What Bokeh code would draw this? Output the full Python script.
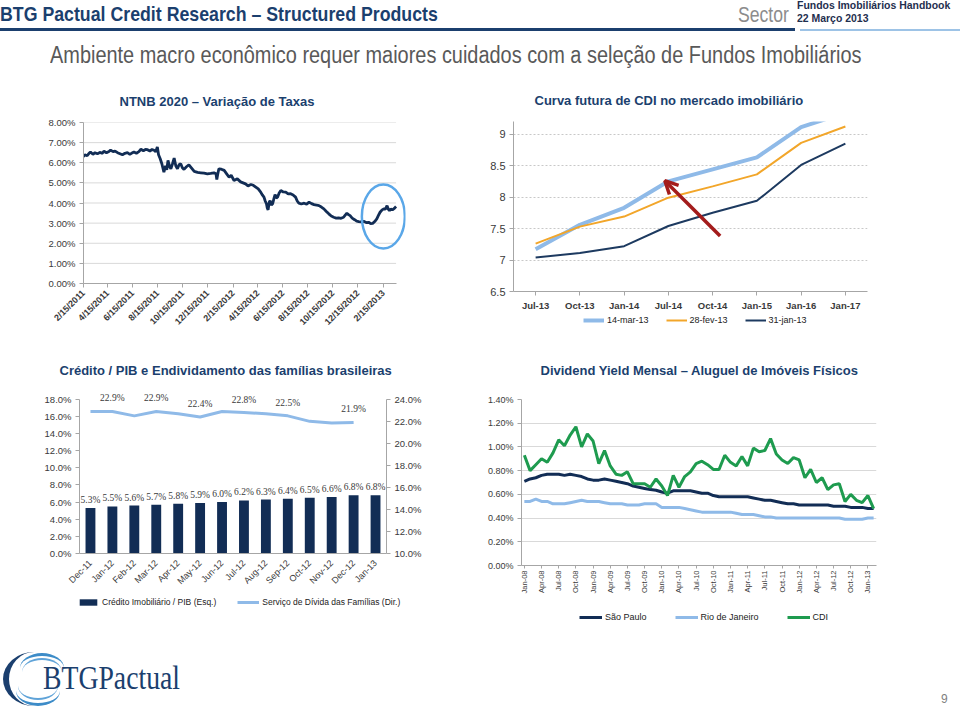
import math
from datetime import datetime
from bokeh.plotting import figure
from bokeh.models import (Div, FixedTicker, Legend, LegendItem, LabelSet, ColumnDataSource,
                          Arrow, OpenHead, LinearAxis, Range1d, FactorRange, PrintfTickFormatter)
from bokeh.layouts import column, row
from bokeh.embed import file_html
from bokeh.resources import INLINE

# ---------------- data ----------------
# NTNB 2020 yield (%)
ntnb_dates = [
    "2011-02-15", "2011-02-18", "2011-02-24", "2011-03-01", "2011-03-04", "2011-03-10", "2011-03-15",
    "2011-03-21", "2011-03-28", "2011-04-01", "2011-04-06", "2011-04-12", "2011-04-18", "2011-04-22",
    "2011-04-28", "2011-05-03", "2011-05-09", "2011-05-15", "2011-05-21", "2011-05-27", "2011-06-02",
    "2011-06-08", "2011-06-13", "2011-06-18", "2011-06-24", "2011-06-30", "2011-07-05", "2011-07-11",
    "2011-07-16", "2011-07-21", "2011-07-27", "2011-08-01", "2011-08-06", "2011-08-10", "2011-08-14",
    "2011-08-17", "2011-08-21", "2011-08-25", "2011-08-30", "2011-09-03", "2011-09-06", "2011-09-09",
    "2011-09-13", "2011-09-16", "2011-09-20", "2011-09-24", "2011-09-28", "2011-10-02", "2011-10-06",
    "2011-10-10", "2011-10-14", "2011-10-18", "2011-10-24", "2011-10-30", "2011-11-05", "2011-11-12",
    "2011-11-20", "2011-11-28", "2011-12-06", "2011-12-14", "2011-12-22", "2011-12-30", "2012-01-04",
    "2012-01-06", "2012-01-08", "2012-01-11", "2012-01-17", "2012-01-24", "2012-01-30", "2012-02-05",
    "2012-02-10", "2012-02-17", "2012-02-25", "2012-03-04", "2012-03-10", "2012-03-16", "2012-03-22",
    "2012-03-29", "2012-04-04", "2012-04-10", "2012-04-16", "2012-04-22", "2012-04-26", "2012-04-30",
    "2012-05-03", "2012-05-06", "2012-05-08", "2012-05-10", "2012-05-13", "2012-05-15", "2012-05-18",
    "2012-05-21", "2012-05-24", "2012-05-27", "2012-05-30", "2012-06-02", "2012-06-06", "2012-06-10",
    "2012-06-16", "2012-06-22", "2012-06-28", "2012-07-04", "2012-07-10", "2012-07-16", "2012-07-20",
    "2012-07-24", "2012-07-30", "2012-08-06", "2012-08-12", "2012-08-18", "2012-08-24", "2012-08-30",
    "2012-09-05", "2012-09-11", "2012-09-17", "2012-09-23", "2012-09-29", "2012-10-05", "2012-10-11",
    "2012-10-17", "2012-10-23", "2012-10-29", "2012-11-04", "2012-11-10", "2012-11-14", "2012-11-18",
    "2012-11-22", "2012-11-26", "2012-12-01", "2012-12-07", "2012-12-12", "2012-12-17", "2012-12-23",
    "2012-12-29", "2013-01-04", "2013-01-10", "2013-01-15", "2013-01-20", "2013-01-25", "2013-01-30",
    "2013-02-03", "2013-02-07", "2013-02-12", "2013-02-16", "2013-02-20", "2013-02-24", "2013-02-27",
    "2013-03-02", "2013-03-05", "2013-03-09", "2013-03-13", "2013-03-18",
]
ntnb_rates = [
    6.30, 6.40, 6.35, 6.48, 6.53, 6.42, 6.50,
    6.45, 6.52, 6.46, 6.57, 6.50, 6.56, 6.63,
    6.55, 6.58, 6.50, 6.45, 6.40, 6.47, 6.50,
    6.42, 6.48, 6.53, 6.47, 6.55, 6.67, 6.60,
    6.66, 6.65, 6.58, 6.66, 6.62, 6.55, 6.78,
    6.40, 6.20, 5.95, 5.53, 5.85, 5.65, 6.12,
    5.80, 5.70, 5.95, 6.23, 5.85, 5.70, 5.90,
    5.95, 5.75, 5.67, 5.80, 5.90, 5.75, 5.57,
    5.52, 5.50, 5.48, 5.45, 5.47, 5.50, 5.45,
    5.17, 5.40, 5.70, 5.68, 5.62, 5.45, 5.28,
    5.38, 5.12, 5.20, 5.05, 5.00, 4.95, 4.85,
    4.92, 4.88, 4.79, 4.70, 4.54, 4.40, 4.29,
    4.10, 3.96, 3.75, 3.66, 4.05, 4.12, 3.90,
    3.96, 4.20, 4.42, 4.25, 4.29, 4.50, 4.62,
    4.55, 4.54, 4.45, 4.46, 4.40, 4.29, 4.10,
    3.99, 3.95, 3.99, 3.94, 4.04, 3.97, 3.92,
    3.90, 3.87, 3.80, 3.71, 3.58, 3.46, 3.35,
    3.29, 3.25, 3.26, 3.24, 3.29, 3.40, 3.49,
    3.42, 3.37, 3.25, 3.17, 3.10, 3.08, 3.06,
    3.09, 3.03, 3.04, 2.98, 2.99, 3.08, 3.21,
    3.38, 3.54, 3.66, 3.71, 3.70, 3.87, 3.70,
    3.62, 3.70, 3.66, 3.72, 3.82,
]
ntnb_tick_labels = ["2/15/2011", "4/15/2011", "6/15/2011", "8/15/2011", "10/15/2011", "12/15/2011",
                    "2/15/2012", "4/15/2012", "6/15/2012", "8/15/2012", "10/15/2012", "12/15/2012",
                    "2/15/2013"]
ntnb_y_ticks = [0, 1, 2, 3, 4, 5, 6, 7, 8]
ntnb_highlight_date = "2013-02-15"
ntnb_highlight_rate = 3.33

# Curva futura de CDI
cdi_curve_labels = ["Jul-13", "Oct-13", "Jan-14", "Jul-14", "Oct-14", "Jan-15", "Jan-16", "Jan-17"]
curve_14mar13 = [7.17, 7.56, 7.83, 8.25, 8.44, 8.63, 9.11, 9.34]
curve_28fev13 = [7.26, 7.53, 7.69, 7.99, 8.17, 8.36, 8.86, 9.12]
curve_31jan13 = [7.04, 7.11, 7.22, 7.54, 7.75, 7.94, 8.51, 8.85]
curve_y_ticks = [6.5, 7, 7.5, 8, 8.5, 9]
curve_y_tick_labels = ["6.5", "7", "7.5", "8", "8.5", "9"]
arrow_from = (4.17, 7.38)
arrow_to = (2.92, 8.26)

# Crédito / PIB e endividamento
credit_months = ["Dec-11", "Jan-12", "Feb-12", "Mar-12", "Apr-12", "May-12", "Jun-12", "Jul-12",
                 "Aug-12", "Sep-12", "Oct-12", "Nov-12", "Dec-12", "Jan-13"]
credit_gdp = [5.3, 5.5, 5.6, 5.7, 5.8, 5.9, 6.0, 6.2, 6.3, 6.4, 6.5, 6.6, 6.8, 6.8]
debt_service = [22.9, 22.9, 22.5, 22.9, 22.7, 22.4, 22.9, 22.8, 22.7, 22.5, 22.0, 21.85, 21.9]
debt_service_labelled = ["Jan-12", "Mar-12", "May-12", "Jul-12", "Sep-12", "Dec-12"]
credit_left_ticks = [0, 2, 4, 6, 8, 10, 12, 14, 16, 18]
credit_right_ticks = [10, 12, 14, 16, 18, 20, 22, 24]

# Dividend yield mensal
dy_months = ["Jan-08", "Feb-08", "Mar-08", "Apr-08", "May-08", "Jun-08", "Jul-08", "Aug-08", "Sep-08", "Oct-08", "Nov-08", "Dec-08",
             "Jan-09", "Feb-09", "Mar-09", "Apr-09", "May-09", "Jun-09", "Jul-09", "Aug-09", "Sep-09", "Oct-09", "Nov-09", "Dec-09",
             "Jan-10", "Feb-10", "Mar-10", "Apr-10", "May-10", "Jun-10", "Jul-10", "Aug-10", "Sep-10", "Oct-10", "Nov-10", "Dec-10",
             "Jan-11", "Feb-11", "Mar-11", "Apr-11", "May-11", "Jun-11", "Jul-11", "Aug-11", "Sep-11", "Oct-11", "Nov-11", "Dec-11",
             "Jan-12", "Feb-12", "Mar-12", "Apr-12", "May-12", "Jun-12", "Jul-12", "Aug-12", "Sep-12", "Oct-12", "Nov-12", "Dec-12",
             "Jan-13", "Feb-13"]
dy_sao_paulo = [0.71, 0.73, 0.74, 0.76, 0.77, 0.77, 0.77, 0.76, 0.77, 0.76, 0.75, 0.73,
                0.72, 0.72, 0.73, 0.72, 0.71, 0.70, 0.69, 0.67, 0.66, 0.65, 0.64, 0.635,
                0.62, 0.61, 0.63, 0.63, 0.63, 0.63, 0.62, 0.61, 0.61, 0.59, 0.58, 0.58,
                0.58, 0.58, 0.58, 0.58, 0.57, 0.56, 0.55, 0.55, 0.54, 0.53, 0.52, 0.52,
                0.51, 0.51, 0.51, 0.51, 0.51, 0.51, 0.50, 0.50, 0.50, 0.49, 0.49, 0.49,
                0.48, 0.48]
dy_rio = [0.54, 0.54, 0.56, 0.54, 0.54, 0.52, 0.52, 0.52, 0.53, 0.54, 0.55, 0.54,
          0.54, 0.54, 0.53, 0.52, 0.52, 0.52, 0.51, 0.51, 0.51, 0.52, 0.52, 0.52,
          0.49, 0.49, 0.49, 0.49, 0.48, 0.47, 0.46, 0.45, 0.45, 0.45, 0.45, 0.45,
          0.45, 0.44, 0.43, 0.43, 0.43, 0.42, 0.41, 0.41, 0.40, 0.40, 0.40, 0.40,
          0.40, 0.40, 0.40, 0.40, 0.40, 0.40, 0.40, 0.40, 0.39, 0.39, 0.39, 0.39,
          0.40, 0.40]
dy_cdi = [0.93, 0.80, 0.85, 0.90, 0.87, 0.95, 1.06, 1.01, 1.10, 1.17, 1.00, 1.11,
          1.05, 0.86, 0.97, 0.84, 0.77, 0.76, 0.79, 0.69, 0.69, 0.69, 0.66, 0.73,
          0.67, 0.59, 0.76, 0.66, 0.75, 0.79, 0.86, 0.88, 0.85, 0.81, 0.81, 0.93,
          0.87, 0.84, 0.92, 0.84, 0.99, 0.96, 0.97, 1.07, 0.94, 0.89, 0.86, 0.91,
          0.89, 0.74, 0.81, 0.70, 0.74, 0.64, 0.68, 0.69, 0.54, 0.60, 0.55, 0.53,
          0.59, 0.48]
dy_y_ticks = [0.0, 0.2, 0.4, 0.6, 0.8, 1.0, 1.2, 1.4]

# ---------------- style ----------------
SANS = "Liberation Sans"
NAVY = "#122D55"
TITLE_BLUE = "#1B3F6E"
LIGHT = "#8FBAE8"
ORANGE = "#F2A62A"
GREEN = "#1E9B4F"
RED = "#A31C1C"
AXIS_GREY = "#A6A6A6"
GRID_GREY = "#D9D9D9"
TXT = "#3A3A3A"
NAN = float("nan")


def base_fig(**kw):
    p = figure(output_backend="svg", toolbar_location=None, **kw)
    p.outline_line_color = None
    p.background_fill_color = "white"
    p.border_fill_color = "white"
    p.xgrid.visible = False
    p.ygrid.visible = False
    return p


def style_axis(ax, size, bold=False):
    ax.axis_line_color = AXIS_GREY
    ax.major_tick_line_color = AXIS_GREY
    ax.minor_tick_line_color = None
    ax.major_tick_out = 4
    ax.major_tick_in = 0
    ax.major_label_standoff = 4
    ax.major_label_text_font = SANS
    ax.major_label_text_font_size = size
    ax.major_label_text_color = TXT
    if bold:
        ax.major_label_text_font_style = "bold"


def style_title(p, text, offset, standoff):
    p.title.text = text
    p.title.text_font = SANS
    p.title.text_font_size = "13px"
    p.title.text_font_style = "bold"
    p.title.text_color = TITLE_BLUE
    p.title.align = "left"
    p.title.offset = offset
    p.title.standoff = standoff


def make_legend(fig, items, vx, vy, glyph_w, spacing, font_size):
    """Legend drawn from placeholder renderers that carry the series styles."""
    entries = []
    for label, kind, kw in items:
        if kind == "bar":
            r = fig.vbar(x=[NAN], top=[NAN], width=0.5, **kw)
        else:
            r = fig.line(x=[NAN], y=[NAN], **kw)
        entries.append(LegendItem(label=label, renderers=[r]))
    lg = Legend(items=entries, orientation="horizontal", location=(vx, vy))
    lg.padding = 0
    lg.margin = 0
    lg.border_line_color = None
    lg.background_fill_alpha = 0
    lg.glyph_width = glyph_w
    lg.glyph_height = 8
    lg.label_height = 12
    lg.label_standoff = 3
    lg.spacing = spacing
    lg.label_text_font = SANS
    lg.label_text_font_size = font_size
    lg.label_text_color = "#222222"
    fig.add_layout(lg)
    return lg


def strip_fig(width, height):
    lf = figure(width=width, height=height, x_range=Range1d(0, 1), y_range=Range1d(0, 1),
                x_axis_location=None, y_axis_location=None, min_border=0,
                output_backend="svg", toolbar_location=None)
    lf.outline_line_color = None
    lf.xgrid.visible = False
    lf.ygrid.visible = False
    return lf


def to_ms(d):
    return (d - datetime(1970, 1, 1)).total_seconds() * 1000.0


# ---------------- chart 1: NTNB 2020 ----------------
ntnb_x = [datetime.strptime(d, "%Y-%m-%d") for d in ntnb_dates]
tick_dates = [datetime.strptime(t, "%m/%d/%Y") for t in ntnb_tick_labels]
x_first = tick_dates[0]
x_axis_end = ntnb_x[-1]
x_frame_end = datetime(2013, 4, 10)

p1 = base_fig(width=480, height=262, x_axis_type="datetime",
              x_range=Range1d(x_first, x_frame_end), y_range=Range1d(0, 8),
              min_border_left=83, min_border_right=75, min_border_top=46, min_border_bottom=55)
style_title(p1, "NTNB 2020 – Variação de Taxas", 36, 28)
p1.segment(x0=[x_first] * len(ntnb_y_ticks[1:]), x1=[x_axis_end] * len(ntnb_y_ticks[1:]),
           y0=ntnb_y_ticks[1:], y1=ntnb_y_ticks[1:], line_color=GRID_GREY, line_width=1)
p1.line(ntnb_x, ntnb_rates, line_color=NAVY, line_width=2.8)
p1.ellipse(x=[datetime.strptime(ntnb_highlight_date, "%Y-%m-%d")], y=[ntnb_highlight_rate],
           width=43, height=64, width_units="screen", height_units="screen",
           fill_color=None, line_color="#5AA7E8", line_width=2.5)
xa = p1.xaxis[0]
style_axis(xa, "9px", bold=True)
xa.ticker = FixedTicker(ticks=[to_ms(d) for d in tick_dates])
xa.major_label_overrides = {to_ms(d): lbl for d, lbl in zip(tick_dates, ntnb_tick_labels)}
xa.major_label_orientation = math.pi / 4
xa.bounds = (x_first, x_axis_end)
ya = p1.yaxis[0]
style_axis(ya, "9.5px")
ya.ticker = FixedTicker(ticks=ntnb_y_ticks)
ya.formatter = PrintfTickFormatter(format="%.2f%%")

# ---------------- chart 2: Curva CDI ----------------
cx = list(range(len(cdi_curve_labels)))
p2 = base_fig(width=480, height=238, x_range=Range1d(-0.5, len(cx) - 0.5), y_range=Range1d(6.5, 9.2),
              min_border_left=33, min_border_right=93, min_border_top=45, min_border_bottom=23)
style_title(p2, "Curva futura de CDI no mercado imobiliário", 21, 27)
p2.ygrid.visible = True
p2.ygrid.ticker = FixedTicker(ticks=curve_y_ticks[1:])
p2.ygrid.grid_line_color = "#C8C8C8"
p2.ygrid.grid_line_dash = "2 2"
mar_style = dict(line_color=LIGHT, line_width=4)
fev_style = dict(line_color=ORANGE, line_width=2)
jan_style = dict(line_color="#1D3A60", line_width=2)
p2.line(cx, curve_14mar13, **mar_style)
p2.line(cx, curve_28fev13, **fev_style)
p2.line(cx, curve_31jan13, **jan_style)
p2.add_layout(Arrow(end=OpenHead(size=13, line_color=RED, line_width=3.5),
                    x_start=arrow_from[0], y_start=arrow_from[1], x_end=arrow_to[0], y_end=arrow_to[1],
                    line_color=RED, line_width=3.5))
xa2 = p2.xaxis[0]
style_axis(xa2, "9.5px", bold=True)
xa2.ticker = FixedTicker(ticks=cx)
xa2.major_label_overrides = {i: l for i, l in zip(cx, cdi_curve_labels)}
ya2 = p2.yaxis[0]
style_axis(ya2, "11px")
ya2.ticker = FixedTicker(ticks=curve_y_ticks)
ya2.major_label_overrides = {t: l for t, l in zip(curve_y_ticks, curve_y_tick_labels)}
l2 = strip_fig(480, 24)
make_legend(l2, [("14-mar-13", "line", mar_style), ("28-fev-13", "line", fev_style),
                 ("31-jan-13", "line", jan_style)], 70, 12, 21, 17, "9px")

# ---------------- chart 3: Crédito / PIB ----------------
left_top = 19.5
right_top = credit_right_ticks[0] + (credit_right_ticks[-1] - credit_right_ticks[0]) * left_top / credit_left_ticks[-1]
p3 = base_fig(width=480, height=258, x_range=FactorRange(factors=credit_months), y_range=Range1d(0, left_top),
              min_border_left=79, min_border_right=94, min_border_top=48, min_border_bottom=43)
style_title(p3, "Crédito / PIB e Endividamento das famílias brasileiras", -20, 17)
p3.extra_y_ranges = {"right": Range1d(credit_right_ticks[0], right_top)}
bar_style = dict(fill_color=NAVY, line_color=None)
serv_style = dict(line_color=LIGHT, line_width=3)
p3.vbar(x=credit_months, top=credit_gdp, width=0.45, **bar_style)
p3.line(credit_months[:len(debt_service)], debt_service, y_range_name="right", **serv_style)
bar_src = ColumnDataSource(dict(x=credit_months, y=credit_gdp, t=[f"{v:.1f}%" for v in credit_gdp]))
p3.add_layout(LabelSet(x="x", y="y", text="t", source=bar_src, y_offset=3, text_align="center",
                       text_baseline="bottom", text_font=SANS, text_font_size="9.5px", text_color=TXT))
lab_idx = [credit_months.index(m) for m in debt_service_labelled]
serv_src = ColumnDataSource(dict(x=[credit_months[i] for i in lab_idx], y=[debt_service[i] for i in lab_idx],
                                 t=[f"{debt_service[i]:.1f}%" for i in lab_idx]))
p3.add_layout(LabelSet(x="x", y="y", text="t", source=serv_src, y_range_name="right", y_offset=8,
                       text_align="center", text_baseline="bottom", text_font=SANS,
                       text_font_size="9.5px", text_color=TXT))
ra3 = LinearAxis(y_range_name="right")
p3.add_layout(ra3, "right")
xa3 = p3.xaxis[0]
style_axis(xa3, "9px")
xa3.major_tick_line_color = None
xa3.major_label_orientation = math.pi / 4
for ax, ticks in [(p3.yaxis[0], credit_left_ticks), (ra3, credit_right_ticks)]:
    style_axis(ax, "9.5px")
    ax.ticker = FixedTicker(ticks=ticks)
    ax.formatter = PrintfTickFormatter(format="%.1f%%")
    ax.bounds = (ticks[0], ticks[-1])

# ---------------- chart 4: Dividend yield ----------------
dx = list(range(len(dy_months)))
p4 = base_fig(width=480, height=258, x_range=Range1d(-0.5, len(dx) - 0.5), y_range=Range1d(0, 1.4),
              min_border_left=41, min_border_right=84, min_border_top=61, min_border_bottom=30)
style_title(p4, "Dividend Yield Mensal – Aluguel de Imóveis Físicos", 19, 43)
p4.ygrid.visible = True
p4.ygrid.ticker = FixedTicker(ticks=dy_y_ticks[1:])
p4.ygrid.grid_line_color = GRID_GREY
rio_style = dict(line_color=LIGHT, line_width=3)
sp_style = dict(line_color=NAVY, line_width=3)
cdi_style = dict(line_color=GREEN, line_width=3)
p4.line(dx, dy_rio, **rio_style)
p4.line(dx, dy_sao_paulo, **sp_style)
p4.line(dx, dy_cdi, **cdi_style)
xa4 = p4.xaxis[0]
style_axis(xa4, "7.5px")
xa4.major_tick_out = 3
xa4.major_label_standoff = 2
xa4.ticker = FixedTicker(ticks=dx[::3])
xa4.major_label_overrides = {i: dy_months[i] for i in dx[::3]}
xa4.major_label_orientation = math.pi / 2
ya4 = p4.yaxis[0]
style_axis(ya4, "9px")
ya4.ticker = FixedTicker(ticks=dy_y_ticks)
ya4.formatter = PrintfTickFormatter(format="%.2f%%")

# legends of the lower charts, in one strip under both
l34 = strip_fig(960, 34)
make_legend(l34, [("Crédito Imobiliário / PIB (Esq.)", "bar", bar_style),
                  ("Serviço de Dívida das Famílias (Dir.)", "line", serv_style)], 77, 22, 22, 21, "8.5px")
make_legend(l34, [("São Paulo", "line", sp_style), ("Rio de Janeiro", "line", rio_style),
                  ("CDI", "line", cdi_style)], 579, 7, 23, 28, "9px")

# ---------------- header / footer ----------------
NF = "'Liberation Sans',Arial,sans-serif"
SF = "'Liberation Serif','Times New Roman',serif"
SQ = "transform-origin:0 0;white-space:nowrap;position:absolute;"
header = Div(width=960, height=76, margin=0, text=f"""
<div style="position:relative;width:960px;height:76px;overflow:hidden;">
 <div style="{SQ}left:0px;top:2px;font:bold 21px {NF};color:{TITLE_BLUE};transform:scaleX(0.845);">BTG Pactual Credit Research – Structured Products</div>
 <div style="{SQ}left:738px;top:2px;font:22px {NF};color:#8C8C8C;transform:scaleX(0.8);">Sector</div>
 <div style="{SQ}left:797px;top:-1px;font:bold 11px {NF};color:#1F2F4F;transform:scaleX(0.95);">Fundos Imobiliários Handbook</div>
 <div style="{SQ}left:797px;top:12px;font:bold 11px {NF};color:#1F2F4F;transform:scaleX(0.95);">22 Março 2013</div>
 <div style="position:absolute;left:0px;top:28px;width:795px;height:3px;background:{TITLE_BLUE};"></div>
 <div style="position:absolute;left:800px;top:29px;width:160px;height:2px;background:#9DC3E6;"></div>
 <div style="{SQ}left:50px;top:42px;font:23px {NF};color:#595959;transform:scaleX(0.866);">Ambiente macro econômico requer maiores cuidados com a seleção de Fundos Imobiliários</div>
</div>""")

footer = Div(width=960, height=86, margin=0, text=f"""
<div style="position:relative;width:960px;height:86px;overflow:hidden;">
 <div style="position:absolute;left:3px;top:22px;width:62px;height:54px;border-radius:50%;border-left:6px solid {TITLE_BLUE};box-sizing:border-box;"></div>
 <div style="position:absolute;left:20px;top:23px;width:44px;height:30px;border-radius:50%;border-top:3px solid #3D8CC8;box-sizing:border-box;"></div>
 <div style="position:absolute;left:22px;top:28px;width:40px;height:28px;border-radius:50%;border-top:2px solid #5FA3D8;box-sizing:border-box;"></div>
 <div style="position:absolute;left:16px;top:46px;width:44px;height:30px;border-radius:50%;border-bottom:3px solid #3D8CC8;box-sizing:border-box;"></div>
 <div style="position:absolute;left:18px;top:42px;width:40px;height:28px;border-radius:50%;border-bottom:2px solid #5FA3D8;box-sizing:border-box;"></div>
 <div style="{SQ}left:43px;top:32px;font:33px/33px {SF};color:{TITLE_BLUE};transform:scaleX(0.84);">BTGPactual</div>
 <div style="{SQ}left:941px;top:62px;font:12px {NF};color:#7F7F7F;">9</div>
</div>""")

layout = column(header,
                row(p1, column(p2, l2, spacing=0), spacing=0),
                row(column(p3), column(p4), spacing=0),
                l34,
                footer, spacing=0)

html = file_html(layout, INLINE, title="BTG Pactual – Fundos Imobiliários")
html = html.replace("</head>", "<style>html,body{margin:0 !important;padding:0 !important;}</style></head>", 1)
open("out.html", "w").write(html)
